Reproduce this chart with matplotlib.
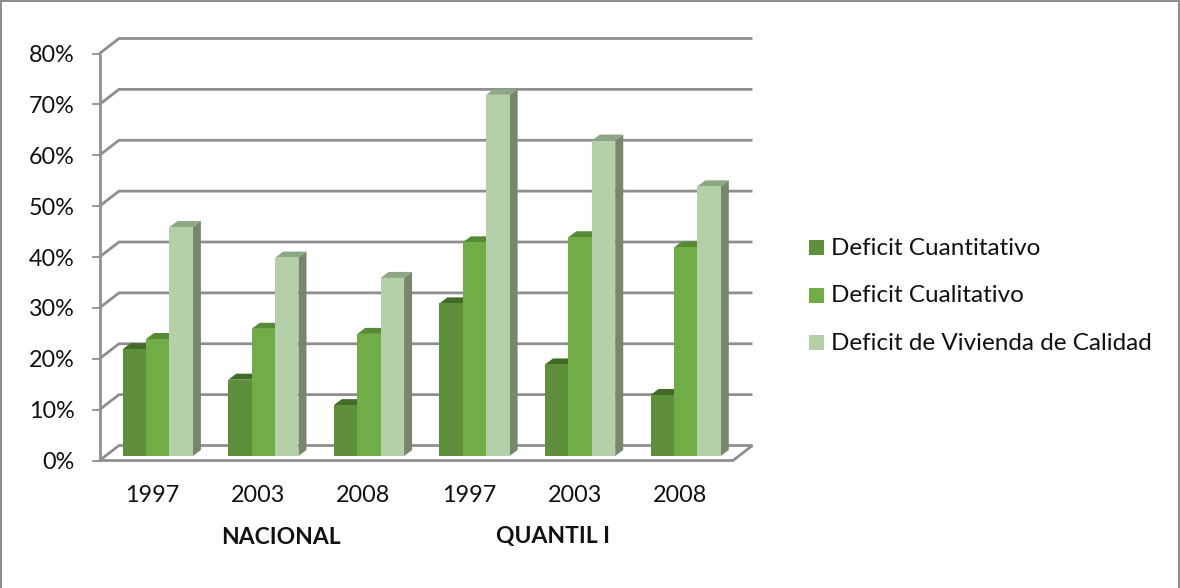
import matplotlib
matplotlib.use("Agg")
from matplotlib import pyplot as plt
from matplotlib.patches import Polygon, Rectangle

years = ["1997", "2003", "2008", "1997", "2003", "2008"]
groups = ["NACIONAL", "QUANTIL I"]
group_centers = [1.72, 4.295]
series_names = ["Deficit Cuantitativo", "Deficit Cualitativo", "Deficit de Vivienda de Calidad"]
cuantitativo = [21, 15, 10, 30, 18, 12]
cualitativo = [23, 25, 24, 42, 43, 41]
calidad = [45, 39, 35, 71, 62, 53]
y_ticks = [0, 10, 20, 30, 40, 50, 60, 70, 80]

front_colors = ["#5E8F3B", "#70AD47", "#B5CFA8"]
top_colors = ["#426B27", "#578A36", "#8EA684"]
side_colors = ["#4A7530", "#5B8E3A", "#76876B"]
grid_color = "#8F8F8F"

W, H = 1180, 588
plt.rcParams['font.family'] = ['Lato', 'DejaVu Sans']

fig = plt.figure(figsize=(W / 100, H / 100), dpi=100)

# plot area in pixels: x from 99.5 to 733, 0% at y=460.5, 80% at y=53.5
left, right, bottom, top = 99.5, 733.0, 460.5, 53.5
ax = fig.add_axes([left / W, 1 - bottom / H, (right - left) / W, (bottom - top) / H])
ax.set_xlim(0, 6)
ax.set_ylim(0, 80)
ax.axis("off")

px_x = 6 / (right - left)
px_y = 80 / (bottom - top)

# depth of the floor and of the bars, in data units
wall_dx, wall_dy = 19.5 * px_x, 15 * px_y
base_dx, base_dy = 5.5 * px_x, 4.5 * px_y
bar_dx, bar_dy = 8 * px_x, 6 * px_y
bar_w = 23.4 * px_x


def wall_line(xs, ys, **kw):
    ax.plot(xs, ys, color=grid_color, lw=2.0, solid_capstyle="butt", clip_on=False, **kw)


# gridlines on the back wall and the diagonals on the side wall
for v in y_ticks:
    wall_line([0, wall_dx, 6 + wall_dx], [v, v + wall_dy, v + wall_dy], solid_joinstyle="miter")
    ax.plot([-7 * px_x, 0], [v, v], color=grid_color, lw=1.3, clip_on=False)

# floor edges and the vertical axis
wall_line([0, 6, 6 + wall_dx], [0, 0, wall_dy])
wall_line([0, 0], [0, 80])

all_series = [cuantitativo, cualitativo, calidad]
for g in range(len(years)):
    for s, values in enumerate(all_series):
        v = values[g]
        x0 = g + 0.5 + base_dx + (s - 1.5) * bar_w
        x1 = x0 + bar_w
        ax.add_patch(Polygon([(x1, base_dy), (x1 + bar_dx, base_dy + bar_dy),
                              (x1 + bar_dx, base_dy + v + bar_dy), (x1, base_dy + v)],
                             closed=True, fc=side_colors[s], ec="none", zorder=3 + s))
        ax.add_patch(Polygon([(x0, base_dy + v), (x0 + bar_dx, base_dy + v + bar_dy),
                              (x1 + bar_dx, base_dy + v + bar_dy), (x1, base_dy + v)],
                             closed=True, fc=top_colors[s], ec="none", zorder=3 + s))
        ax.bar(x0, v, width=bar_w, bottom=base_dy, align="edge", color=front_colors[s], zorder=3 + s)

# value and category labels
text_size = 16.8
for v in y_ticks:
    ax.text(-25 * px_x, v - 2 * px_y, "%d%%" % v, ha="right", va="center", fontsize=text_size,
            color="#111111", clip_on=False)
for i, year in enumerate(years):
    ax.text(i + 0.5, -35.5 * px_y, year, ha="center", va="center", fontsize=text_size, color="#111111", clip_on=False)
for name, center in zip(groups, group_centers):
    ax.text(center, -76.5 * px_y, name, ha="center", va="center", fontsize=16.5,
            fontweight="bold", color="#111111", clip_on=False)

# legend drawn by hand to hold the exact spacing of the entries
for i, name in enumerate(series_names):
    y_px = 247.5 + i * 47.5
    fig.add_artist(Rectangle((809 / W, 1 - (y_px + 7.5) / H), 15 / W, 15 / H,
                             transform=fig.transFigure, fc=front_colors[i], ec="none"))
    fig.text(831 / W, 1 - (y_px + 1) / H, name, ha="left", va="center", fontsize=17.5, color="#111111")

# chart border, open at the bottom
for xs, ys in [([1, 1], [0, H]), ([0, W], [1, 1]), ([W - 1.5, W - 1.5], [0, H])]:
    fig.add_artist(plt.Line2D([x / W for x in xs], [1 - y / H for y in ys],
                              transform=fig.transFigure, color="#8C8C8C", lw=1.4))

fig.savefig("out.png", dpi=100)
